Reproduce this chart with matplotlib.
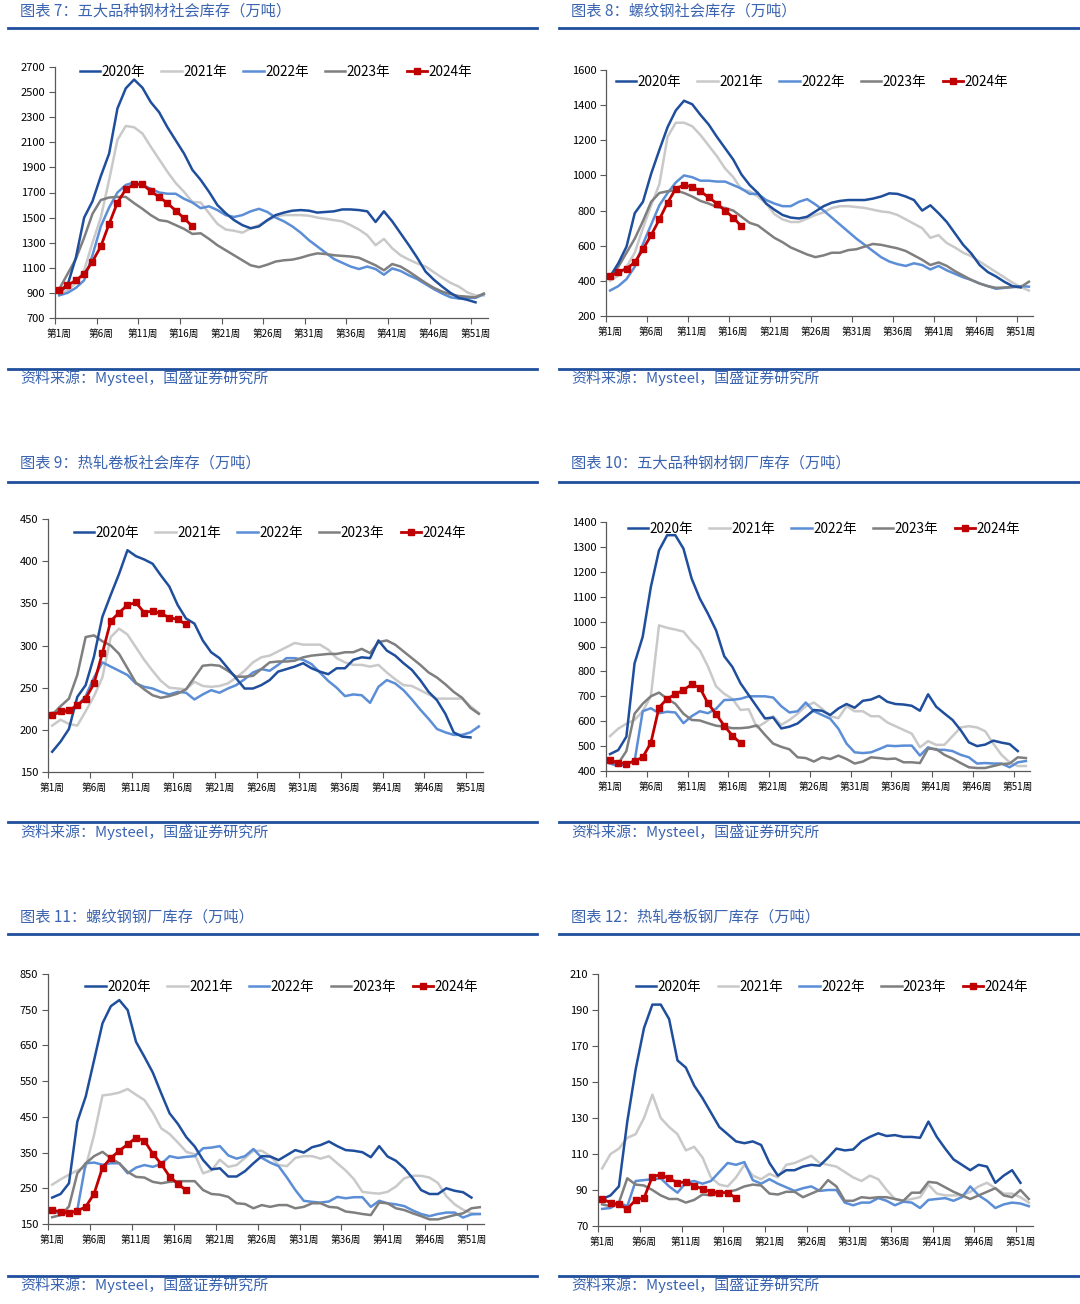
import matplotlib
matplotlib.use("Agg")
import matplotlib.pyplot as plt
from matplotlib.lines import Line2D
import numpy as np

plt.rcParams['font.family'] = ['Noto Sans CJK SC', 'DejaVu Sans']

# ---------------- data ----------------
years = ["2020年", "2021年", "2022年", "2023年", "2024年"]
week_labels = ["第1周", "第6周", "第11周", "第16周", "第21周", "第26周",
               "第31周", "第36周", "第41周", "第46周", "第51周"]

titles = ["图表 7：五大品种钢材社会库存（万吨）",
          "图表 8：螺纹钢社会库存（万吨）",
          "图表 9：热轧卷板社会库存（万吨）",
          "图表 10：五大品种钢材钢厂库存（万吨）",
          "图表 11：螺纹钢钢厂库存（万吨）",
          "图表 12：热轧卷板钢厂库存（万吨）"]
source = "资料来源：Mysteel，国盛证券研究所"

# 图表7 五大品种钢材社会库存
p7_2020 = [900, 960, 1180, 1500, 1630, 1830, 2010, 2370, 2530, 2600, 2535, 2420, 2340, 2220, 2115, 2010, 1880,
           1800, 1705, 1600, 1535, 1480, 1440, 1415, 1430, 1480, 1520, 1540, 1555, 1560, 1555, 1540, 1545, 1550,
           1565, 1565, 1560, 1550, 1465, 1550, 1470, 1375, 1280, 1180, 1070, 1005, 950, 900, 860, 845, 825]
p7_2021 = [890, 920, 980, 1080, 1300, 1500, 1800, 2120, 2230, 2220, 2170, 2065, 1965, 1865, 1775, 1705, 1625,
           1620, 1535, 1450, 1405, 1395, 1380, 1415, 1440, 1475, 1510, 1520, 1520, 1520, 1515, 1500, 1490, 1480,
           1470, 1440, 1405, 1360, 1280, 1330, 1255, 1200, 1165, 1135, 1110, 1065, 1020, 980, 950, 905, 880, 880]
p7_2022 = [880, 900, 940, 1000, 1200, 1430, 1580, 1700, 1760, 1780, 1760, 1730, 1700, 1690, 1690, 1650, 1620,
           1575, 1590, 1560, 1520, 1505, 1520, 1550, 1570, 1545, 1500, 1470, 1430, 1380, 1320, 1270, 1220, 1170,
           1140, 1110, 1090, 1110, 1090, 1045, 1095, 1075, 1040, 1010, 970, 930, 895, 865, 855, 860, 860, 890]
p7_2023 = [930, 1050, 1170, 1340, 1530, 1640, 1660, 1665, 1665, 1615, 1570, 1520, 1480, 1470, 1440, 1410, 1370,
           1375, 1330, 1280, 1240, 1200, 1160, 1120, 1105, 1125, 1150, 1160, 1165, 1180, 1200, 1215, 1210, 1200,
           1195, 1190, 1180, 1150, 1120, 1080, 1130, 1110, 1070, 1025, 980, 940, 910, 890, 875, 870, 865, 895]
p7_2024 = [920, 960, 1000, 1050, 1150, 1270, 1450, 1620, 1725, 1765, 1765, 1710, 1665, 1615, 1555, 1495, 1430]

# 图表8 螺纹钢社会库存
p8_2020 = [425, 500, 595, 785, 850, 1010, 1145, 1275, 1370, 1425, 1405, 1345, 1290, 1220, 1155, 1090, 1005,
           945, 900, 840, 805, 775, 760, 755, 765, 795, 825, 845, 855, 860, 860, 860, 868, 880, 898, 895, 880,
           860, 800, 830, 785, 735, 670, 605, 555, 490, 450, 425, 395, 370, 363]
p8_2021 = [400, 430, 480, 560, 700, 830, 950, 1220, 1300, 1300, 1280, 1230, 1170, 1110, 1040, 990, 920, 910,
           880, 840, 780, 750, 735, 735, 755, 775, 790, 815, 825, 825, 820, 815, 805, 795, 790, 775, 750, 725,
           700, 645, 660, 615, 590, 560, 540, 510, 480, 450, 420, 390, 365, 345]
p8_2022 = [345, 370, 410, 480, 610, 720, 830, 900, 960, 1000, 990, 970, 970, 965, 965, 945, 925, 895, 895,
           860, 840, 825, 825, 850, 865, 835, 800, 760, 720, 680, 640, 605, 570, 535, 510, 495, 485, 500, 490,
           465, 485, 460, 440, 420, 405, 385, 370, 355, 360, 365, 370, 367]
p8_2023 = [420, 480, 560, 640, 740, 850, 900, 910, 915, 900, 880, 855, 840, 820, 815, 800, 765, 730, 715, 680,
           645, 620, 590, 570, 550, 535, 545, 560, 560, 575, 580, 595, 610, 605, 595, 585, 570, 545, 520, 490,
           505, 485, 455, 430, 405, 385, 370, 360, 362, 365, 365, 395]
p8_2024 = [425, 450, 470, 505, 580, 660, 750, 845, 925, 945, 935, 910, 875, 840, 800, 760, 710]

# 图表9 热轧卷板社会库存
p9_2020 = [174, 186, 201, 239, 253, 287, 334, 360, 385, 413, 406, 402, 397, 383, 370, 348, 332, 326, 306, 292,
           285, 273, 261, 249, 249, 253, 259, 269, 272, 275, 279, 273, 269, 266, 273, 273, 283, 286, 285, 306,
           294, 288, 279, 271, 259, 245, 235, 219, 197, 192, 191]
p9_2021 = [205, 212, 207, 205, 222, 240, 262, 310, 320, 313, 298, 283, 270, 258, 250, 249, 248, 257, 252, 251,
           252, 255, 262, 270, 280, 286, 288, 293, 298, 303, 301, 301, 301, 295, 285, 280, 277, 277, 275, 277,
           268, 260, 253, 252, 247, 242, 237, 237, 237, 237, 228, 220]
p9_2022 = [220, 220, 222, 228, 240, 262, 280, 275, 270, 265, 255, 251, 249, 245, 242, 245, 244, 236, 242, 247,
           244, 249, 253, 260, 268, 272, 270, 277, 285, 285, 283, 278, 268, 258, 250, 240, 242, 241, 232, 251,
           259, 255, 247, 236, 224, 213, 201, 197, 194, 194, 197, 204]
p9_2023 = [218, 228, 237, 265, 310, 312, 305, 300, 290, 273, 256, 248, 241, 238, 240, 243, 248, 262, 276, 277,
           276, 270, 263, 263, 264, 272, 280, 281, 281, 282, 286, 288, 289, 290, 290, 292, 292, 296, 291, 304,
           306, 301, 293, 285, 277, 268, 262, 254, 245, 238, 226, 219]
p9_2024 = [217, 222, 223, 229, 237, 255, 291, 329, 339, 348, 351, 339, 341, 338, 333, 331, 325]

# 图表10 五大品种钢材钢厂库存
p10_2020 = [468, 484, 538, 832, 939, 1139, 1286, 1347, 1347, 1293, 1173, 1093, 1032, 965, 861, 818, 752, 705,
            658, 611, 615, 571, 578, 591, 618, 645, 642, 625, 651, 669, 654, 682, 687, 701, 678, 669, 667, 662,
            642, 708, 658, 631, 605, 564, 515, 500, 506, 522, 514, 508, 480]
p10_2021 = [540, 570, 590, 605, 640, 700, 985, 975, 968, 960, 920, 885, 820, 740, 710, 690, 645, 648, 575, 595,
            620, 585, 605, 630, 660, 675, 650, 620, 612, 660, 640, 640, 620, 620, 595, 580, 565, 550, 495, 520,
            505, 505, 540, 575, 580, 575, 560, 510, 465, 435, 420, 420]
p10_2022 = [430, 420, 428, 438, 640, 652, 632, 638, 635, 592, 620, 640, 632, 650, 685, 686, 690, 700, 700, 700,
            695, 660, 635, 640, 675, 640, 625, 610, 570, 510, 475, 472, 475, 488, 502, 500, 502, 502, 462, 495,
            485, 485, 480, 465, 455, 430, 432, 430, 430, 415, 435, 440]
p10_2023 = [440, 430, 480, 630, 670, 700, 715, 690, 670, 630, 605, 603, 592, 582, 578, 572, 572, 575, 583, 545,
            510, 497, 487, 455, 452, 438, 455, 448, 462, 448, 430, 438, 455, 452, 448, 450, 435, 435, 432, 490,
            488, 465, 450, 432, 415, 412, 412, 420, 428, 430, 455, 452]
p10_2024 = [443, 433, 430, 440, 455, 513, 655, 690, 708, 725, 748, 735, 672, 628, 582, 542, 512]

# 图表11 螺纹钢钢厂库存
p11_2020 = [224, 234, 264, 437, 507, 609, 712, 760, 777, 749, 660, 618, 574, 516, 460, 430, 393, 367, 329, 303,
            306, 283, 283, 298, 320, 340, 339, 329, 343, 357, 350, 365, 371, 381, 368, 357, 355, 351, 337, 368,
            339, 327, 306, 278, 245, 234, 234, 250, 243, 239, 224]
p11_2021 = [260, 275, 288, 300, 310, 400, 510, 513, 518, 528, 512, 497, 462, 418, 402, 378, 352, 345, 292, 300,
            330, 310, 315, 335, 355, 355, 340, 315, 312, 335, 340, 340, 333, 340, 320, 300, 275, 240, 237, 235,
            240, 255, 278, 285, 285, 280, 265, 228, 205, 190, 180, 178]
p11_2022 = [185, 180, 180, 190, 320, 322, 316, 320, 320, 292, 308, 315, 310, 318, 340, 335, 338, 340, 362, 364,
            368, 342, 333, 340, 360, 335, 322, 312, 280, 245, 215, 212, 210, 213, 226, 222, 225, 225, 198, 215,
            208, 205, 200, 188, 178, 172, 178, 182, 182, 168, 177, 178]
p11_2023 = [169, 175, 199, 292, 320, 340, 352, 334, 320, 296, 282, 280, 268, 264, 268, 270, 270, 270, 245, 234,
            232, 226, 208, 206, 194, 203, 198, 203, 203, 194, 198, 208, 208, 198, 196, 185, 182, 178, 175, 210,
            208, 194, 189, 180, 172, 163, 163, 169, 175, 180, 194, 197]
p11_2024 = [188, 185, 180, 187, 198, 235, 308, 335, 355, 373, 392, 383, 347, 318, 283, 262, 244]

# 图表12 热轧卷板钢厂库存
p12_2020 = [85, 87, 92, 128, 157, 180, 193, 193, 185, 162, 158, 148, 141, 133, 125, 121, 117, 116, 117, 115,
            105, 98, 101, 101, 103, 104, 103.5, 108, 113, 112, 112.5, 117, 119.5, 121.5, 120, 120.5, 119.5, 119.5,
            119, 128, 119.5, 113, 107, 104, 101, 104, 103, 94, 98, 101, 94]
p12_2021 = [102, 110, 113, 119, 121, 130, 143, 130, 125, 121, 112, 114, 108, 97, 93, 92, 97, 104, 98, 96,
            99, 97, 104, 105, 107, 109, 105, 104, 103, 100, 97, 95, 98, 96, 90, 85, 84, 85, 86, 93,
            88, 87, 87, 87, 89, 92, 94, 91, 88, 88, 86, 83]
p12_2022 = [79.5, 80, 83, 81, 95, 95.5, 96, 96.5, 92, 88.5, 94, 95, 93.5, 95, 100, 105, 104, 105.5, 95.5, 93.5,
            96, 93.5, 91.5, 89.5, 91, 92, 89.5, 90, 90, 83, 81.5, 83, 83, 85.5, 84, 81.5, 83.5, 83, 80, 84.5,
            85, 85.5, 84, 86, 92, 87, 84, 80, 82, 83, 82.5, 81]
p12_2023 = [82, 81, 83, 96.5, 93, 92.5, 90, 87, 85, 85, 83, 84.5, 87.5, 87, 88, 89, 90, 92, 93, 92.5,
            88, 87.5, 89, 89, 86, 88, 90, 95.5, 92, 84, 84, 86, 85.5, 86, 86, 85, 84, 88.5, 88.5, 94.5,
            94, 91.5, 89, 87, 85, 87, 89, 91, 87, 86, 90, 85]
p12_2024 = [85, 83, 82, 79.5, 84.5, 85.5, 97.5, 98.5, 96.5, 94, 94.5, 92.5, 90.5, 89, 88.5, 88.5, 85.5]

panels = [
    (p7_2020, p7_2021, p7_2022, p7_2023, p7_2024),
    (p8_2020, p8_2021, p8_2022, p8_2023, p8_2024),
    (p9_2020, p9_2021, p9_2022, p9_2023, p9_2024),
    (p10_2020, p10_2021, p10_2022, p10_2023, p10_2024),
    (p11_2020, p11_2021, p11_2022, p11_2023, p11_2024),
    (p12_2020, p12_2021, p12_2022, p12_2023, p12_2024),
]
y_ranges = [(700, 2700, 200), (200, 1600, 200), (150, 450, 50),
            (400, 1400, 100), (150, 850, 100), (70, 210, 20)]

# ---------------- layout (pixels) ----------------
W, H = 1080, 1304
colors = ['#1F4E9C', '#C9C9C9', '#5B8ED6', '#7F7F7F', '#C00000']
title_color = '#3B64B0'
rule_color = '#1F4E9C'

# axes boxes: left, right, top, bottom (pixels)
axes_px = [(55, 488, 67, 318), (606, 1033, 70, 316),
           (48, 483, 519, 772), (606, 1030, 522, 771),
           (48, 484, 974, 1224), (598, 1033, 974, 1226)]
legend_anchor = [(0.51, 0.98), (0.482, 0.951), (0.51, 0.945),
                 (0.514, 0.972), (0.536, 0.948), (0.538, 0.948)]
# title y, top rule y, source rule y, source text y
rows = [(11, 28, 369, 378), (463, 482, 822, 832), (917, 934, 1276, 1285)]
cols = [(8, 537, 20), (559, 1080, 571)]

fig = plt.figure(figsize=(W / 100, H / 100), dpi=100)


def fx(x):
    return x / W


def fy(y):
    return 1 - y / H


for k in range(6):
    r, c = divmod(k, 2)
    ty, rule1, rule2, sy = rows[r]
    x0, x1, tx = cols[c]
    fig.text(fx(tx), fy(ty), titles[k], color=title_color, fontsize=11,
             ha='left', va='center')
    fig.text(fx(tx), fy(sy), source, color=title_color, fontsize=10.8,
             ha='left', va='center')
    for yy in (rule1, rule2):
        fig.add_artist(Line2D([fx(x0), fx(x1)], [fy(yy), fy(yy)],
                              color=rule_color, lw=2.0, transform=fig.transFigure))

    l, rgt, t, b = axes_px[k]
    ax = fig.add_axes([fx(l), fy(b), (rgt - l) / W, (b - t) / H])
    data = panels[k]
    for j, series in enumerate(data):
        xs = np.arange(1, len(series) + 1)
        if j == 4:
            ax.plot(xs, series, color=colors[j], lw=2.0, marker='s', ms=4.2,
                    label=years[j], zorder=6)
        else:
            ax.plot(xs, series, color=colors[j], lw=1.8, label=years[j], zorder=2 + (j == 0))

    ymin, ymax, step = y_ranges[k]
    ax.set_ylim(ymin, ymax)
    ax.set_yticks(np.arange(ymin, ymax + step / 2, step))
    ax.set_xlim(0.5, 52.5)
    ax.set_xticks(np.arange(0.5, 51, 5))
    ax.set_xticklabels([])
    ax.set_xticks(np.arange(1, 52, 5), minor=True)
    ax.set_xticklabels(week_labels, minor=True, fontsize=7)
    ax.tick_params(axis='x', which='major', length=4, direction='out', color='#595959')
    ax.tick_params(axis='x', which='minor', length=0, pad=8)
    ax.tick_params(axis='y', length=4, direction='out', labelsize=8, pad=3, color='#595959')
    for s in ('top', 'right'):
        ax.spines[s].set_visible(False)
    for s in ('left', 'bottom'):
        ax.spines[s].set_color('#595959')
        ax.spines[s].set_linewidth(0.9)
    ax.patch.set_alpha(0)
    ax.legend(loc='center', bbox_to_anchor=legend_anchor[k], ncol=5, frameon=False,
              fontsize=9.8, handlelength=1.5, handletextpad=0.1, columnspacing=1.2,
              borderpad=0, borderaxespad=0)

fig.savefig("out.png", dpi=100)
